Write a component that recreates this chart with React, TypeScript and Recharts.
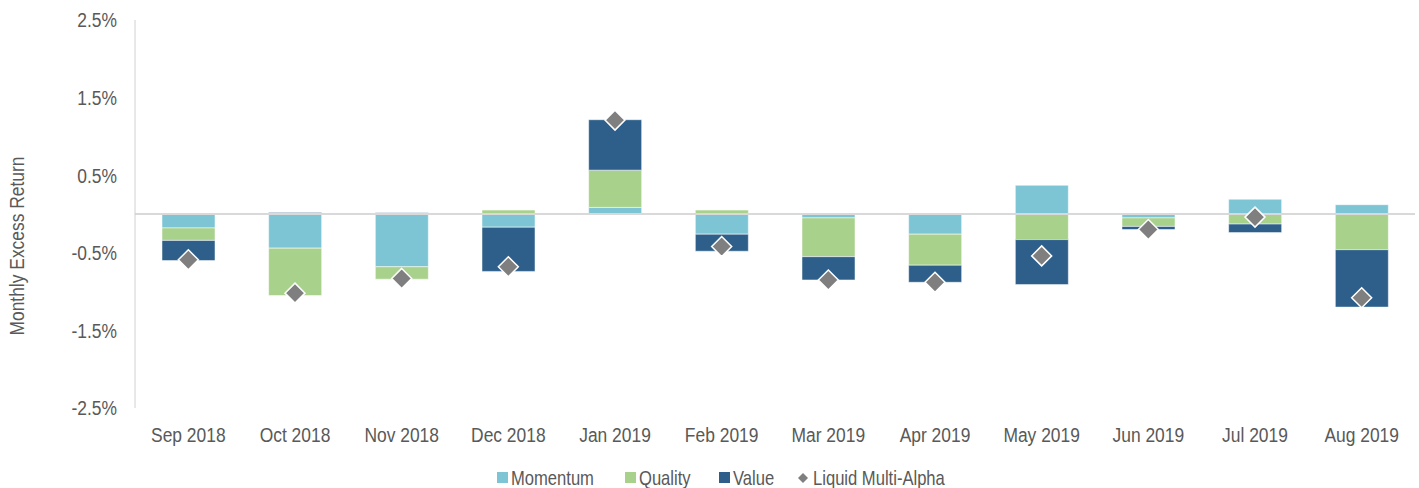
import {
  Bar,
  ComposedChart,
  ReferenceLine,
  Scatter,
  XAxis,
  YAxis,
} from 'recharts';

const MONTHS = [
  'Sep 2018', 'Oct 2018', 'Nov 2018', 'Dec 2018', 'Jan 2019', 'Feb 2019',
  'Mar 2019', 'Apr 2019', 'May 2019', 'Jun 2019', 'Jul 2019', 'Aug 2019',
];
const MOMENTUM = [-0.18, -0.44, -0.68, -0.17, 0.085, -0.26, -0.05, -0.26, 0.37, -0.05, 0.19, 0.12];
const QUALITY = [-0.16, -0.61, -0.16, 0.05, 0.48, 0.05, -0.5, -0.4, -0.33, -0.11, -0.13, -0.46];
const VALUE = [-0.26, 0.02, 0.015, -0.57, 0.65, -0.22, -0.3, -0.22, -0.58, -0.04, -0.11, -0.74];
const LIQUID_ALPHA = [-0.59, -1.02, -0.83, -0.68, 1.21, -0.42, -0.85, -0.88, -0.54, -0.2, -0.04, -1.08];
const Y_TICKS = [-2.5, -1.5, -0.5, 0.5, 1.5, 2.5];

const C_MOMENTUM = '#7dc5d4';
const C_QUALITY = '#a8d18c';
const C_VALUE = '#2d5f8a';
const C_DIAMOND = '#7f7f7f';
const TEXT = '#595959';
const FONT = '"Liberation Sans", Arial, sans-serif';
// no narrow font installed, so squeeze Liberation Sans horizontally
const NARROW = 0.83;

const data = MONTHS.map((m, i) => ({
  month: m,
  momentum: MOMENTUM[i],
  quality: QUALITY[i],
  value: VALUE[i],
  alpha: LIQUID_ALPHA[i],
}));

function Diamond(props: { cx?: number; cy?: number }) {
  const { cx = 0, cy = 0 } = props;
  const r = 10;
  return (
    <path
      d={`M${cx},${cy - r}L${cx + r},${cy}L${cx},${cy + r}L${cx - r},${cy}Z`}
      fill={C_DIAMOND}
      stroke="#fff"
      strokeWidth={1.5}
    />
  );
}

function XTick(props: { x?: number; y?: number; payload?: { value: string } }) {
  const { x = 0, y = 0, payload } = props;
  return (
    <text
      transform={`translate(${x},${y}) scale(${NARROW},1)`}
      dy="0.71em"
      textAnchor="middle"
      fill={TEXT}
      fontSize={21}
      fontFamily={FONT}
    >
      {payload?.value}
    </text>
  );
}

function YTick(props: { x?: number; y?: number; payload?: { value: number } }) {
  const { x = 0, y = 0, payload } = props;
  return (
    <text
      transform={`translate(${x},${y}) scale(${NARROW},1)`}
      dy="0.355em"
      textAnchor="end"
      fill={TEXT}
      fontSize={21}
      fontFamily={FONT}
    >
      {`${(payload?.value ?? 0).toFixed(1)}%`}
    </text>
  );
}

// rotated axis title, sits lower than the plot centre in the original
function YLabel() {
  return (
    <text
      transform={`translate(24,246) rotate(-90) scale(${NARROW},1)`}
      textAnchor="middle"
      fill={TEXT}
      fontSize={21}
      fontFamily={FONT}
    >
      Monthly Excess Return
    </text>
  );
}

function LegendRow() {
  const base = 485;
  const label = (x: number, s: string) => (
    <text
      transform={`translate(${x},${base}) scale(${NARROW},1)`}
      fill={TEXT}
      fontSize={20}
      fontFamily={FONT}
    >
      {s}
    </text>
  );
  return (
    <svg width={1419} height={488} style={{ position: 'absolute', left: 0, top: 0, pointerEvents: 'none' }}>
      <rect x={497} y={472} width={11} height={11} fill={C_MOMENTUM} />
      {label(511, 'Momentum')}
      <rect x={625} y={472} width={11} height={11} fill={C_QUALITY} />
      {label(639, 'Quality')}
      <rect x={719} y={472} width={11} height={11} fill={C_VALUE} />
      {label(733, 'Value')}
      <path d="M803,473L808,478L803,483L798,478Z" fill={C_DIAMOND} />
      {label(813, 'Liquid Multi-Alpha')}
    </svg>
  );
}

export default function App() {
  return (
    <div style={{ position: 'absolute', left: 0, top: 0, width: 1419, height: 488, background: '#fff', overflow: 'hidden' }}>
      <ComposedChart
        width={1419}
        height={488}
        data={data}
        stackOffset="sign"
        margin={{ top: 20, right: 4, bottom: 50, left: 0 }}
      >
        <XAxis
          dataKey="month"
          axisLine={false}
          tickLine={false}
          tickMargin={13}
          height={30}
          interval={0}
          tick={<XTick />}
        />
        <YAxis
          domain={[-2.5, 2.5]}
          ticks={Y_TICKS}
          width={135}
          tickLine={false}
          tickMargin={12}
          axisLine={{ stroke: '#d0d0d0' }}
          tick={<YTick />}
          label={<YLabel />}
        />
        <ReferenceLine y={0} stroke="#d9d9d9" strokeWidth={2} />
        <Bar dataKey="momentum" stackId="s" fill={C_MOMENTUM} barSize={53} stroke="#ffffff" strokeOpacity={0.5} isAnimationActive={false} />
        <Bar dataKey="quality" stackId="s" fill={C_QUALITY} barSize={53} stroke="#ffffff" strokeOpacity={0.5} isAnimationActive={false} />
        <Bar dataKey="value" stackId="s" fill={C_VALUE} barSize={53} stroke="#ffffff" strokeOpacity={0.5} isAnimationActive={false} />
        <Scatter dataKey="alpha" shape={<Diamond />} isAnimationActive={false} />
      </ComposedChart>
      <LegendRow />
    </div>
  );
}
